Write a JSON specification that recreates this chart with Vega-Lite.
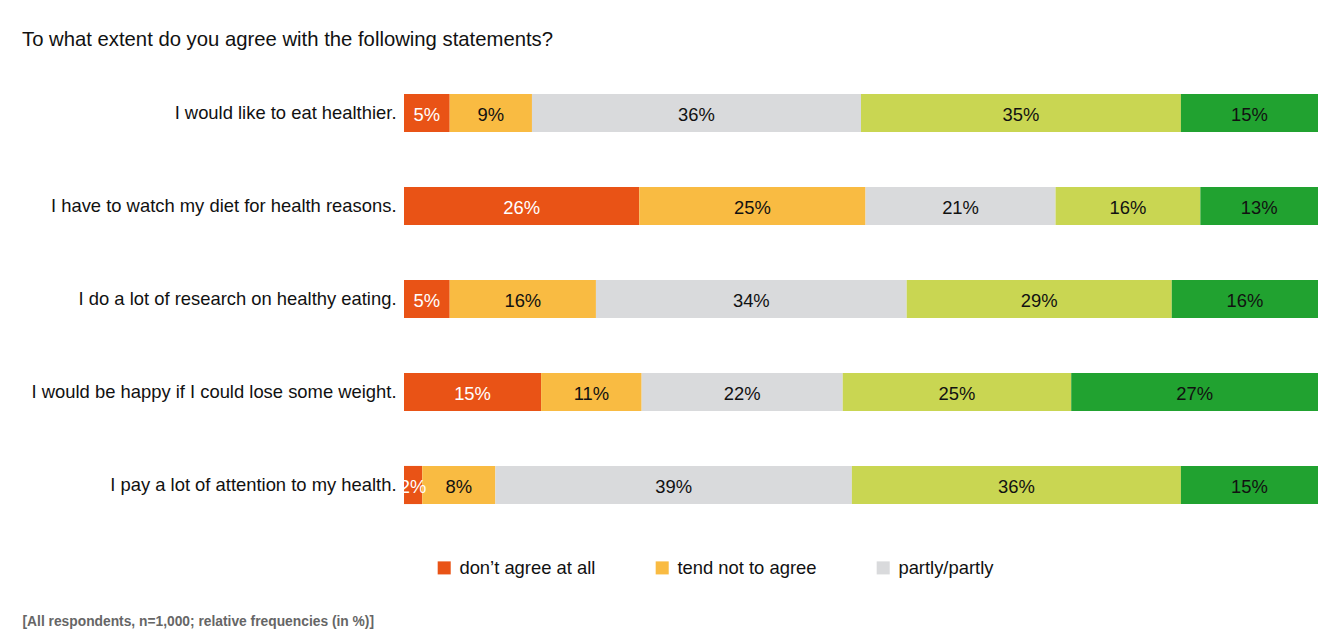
{
  "$schema": "https://vega.github.io/schema/vega-lite/v6.json",
  "autosize": {"type": "none"},
  "width": 914,
  "height": 465,
  "padding": {"left": 404, "top": 66.5, "right": 4, "bottom": 98.5},
  "background": "white",
  "title": {
    "text": "To what extent do you agree with the following statements?",
    "anchor": "start",
    "frame": "group",
    "dx": -382,
    "offset": 16,
    "font": "Liberation Sans",
    "fontSize": 20.3,
    "fontWeight": "normal",
    "color": "#111111"
  },
  "config": {"view": {"stroke": null}, "font": "Liberation Sans"},
  "data": {
    "values": [
      {"statement": "I would like to eat healthier.", "answer": "don’t agree at all", "order": 1, "value": 0.05},
      {"statement": "I would like to eat healthier.", "answer": "tend not to agree", "order": 2, "value": 0.09},
      {"statement": "I would like to eat healthier.", "answer": "partly/partly", "order": 3, "value": 0.36},
      {"statement": "I would like to eat healthier.", "answer": "tend to agree", "order": 4, "value": 0.35},
      {"statement": "I would like to eat healthier.", "answer": "fully agree", "order": 5, "value": 0.15},
      {"statement": "I have to watch my diet for health reasons.", "answer": "don’t agree at all", "order": 1, "value": 0.26},
      {"statement": "I have to watch my diet for health reasons.", "answer": "tend not to agree", "order": 2, "value": 0.25},
      {"statement": "I have to watch my diet for health reasons.", "answer": "partly/partly", "order": 3, "value": 0.21},
      {"statement": "I have to watch my diet for health reasons.", "answer": "tend to agree", "order": 4, "value": 0.16},
      {"statement": "I have to watch my diet for health reasons.", "answer": "fully agree", "order": 5, "value": 0.13},
      {"statement": "I do a lot of research on healthy eating.", "answer": "don’t agree at all", "order": 1, "value": 0.05},
      {"statement": "I do a lot of research on healthy eating.", "answer": "tend not to agree", "order": 2, "value": 0.16},
      {"statement": "I do a lot of research on healthy eating.", "answer": "partly/partly", "order": 3, "value": 0.34},
      {"statement": "I do a lot of research on healthy eating.", "answer": "tend to agree", "order": 4, "value": 0.29},
      {"statement": "I do a lot of research on healthy eating.", "answer": "fully agree", "order": 5, "value": 0.16},
      {"statement": "I would be happy if I could lose some weight.", "answer": "don’t agree at all", "order": 1, "value": 0.15},
      {"statement": "I would be happy if I could lose some weight.", "answer": "tend not to agree", "order": 2, "value": 0.11},
      {"statement": "I would be happy if I could lose some weight.", "answer": "partly/partly", "order": 3, "value": 0.22},
      {"statement": "I would be happy if I could lose some weight.", "answer": "tend to agree", "order": 4, "value": 0.25},
      {"statement": "I would be happy if I could lose some weight.", "answer": "fully agree", "order": 5, "value": 0.27},
      {"statement": "I pay a lot of attention to my health.", "answer": "don’t agree at all", "order": 1, "value": 0.02},
      {"statement": "I pay a lot of attention to my health.", "answer": "tend not to agree", "order": 2, "value": 0.08},
      {"statement": "I pay a lot of attention to my health.", "answer": "partly/partly", "order": 3, "value": 0.39},
      {"statement": "I pay a lot of attention to my health.", "answer": "tend to agree", "order": 4, "value": 0.36},
      {"statement": "I pay a lot of attention to my health.", "answer": "fully agree", "order": 5, "value": 0.15}
    ]
  },
  "transform": [
    {"stack": "value", "groupby": ["statement"], "sort": [{"field": "order", "order": "ascending"}], "offset": "normalize", "as": ["x0", "x1"]}
  ],
  "encoding": {
    "y": {
      "field": "statement",
      "type": "nominal",
      "sort": [
        "I would like to eat healthier.",
        "I have to watch my diet for health reasons.",
        "I do a lot of research on healthy eating.",
        "I would be happy if I could lose some weight.",
        "I pay a lot of attention to my health."
      ],
      "scale": {"paddingInner": 0.59, "paddingOuter": 0.295},
      "axis": {
        "title": null,
        "domain": false,
        "ticks": false,
        "labelPadding": 8,
        "labelFontSize": 18.4,
        "labelColor": "#111111",
        "labelLimit": 0,
        "labelFont": "Liberation Sans"
      }
    }
  },
  "layer": [
    {
      "mark": {"type": "bar"},
      "encoding": {
        "x": {
          "field": "x0",
          "type": "quantitative",
          "scale": {"domain": [0, 1], "nice": false},
          "axis": {
            "title": "[All respondents, n=1,000; relative frequencies (in %)]",
            "labels": false,
            "ticks": false,
            "domain": false,
            "grid": false,
            "titleX": -382,
            "titleY": 94,
            "titleAlign": "left",
            "titleAnchor": null,
            "titleBaseline": "alphabetic",
            "titleFont": "Liberation Sans",
            "titleFontSize": 13.8,
            "titleFontWeight": "bold",
            "titleColor": "#666666"
          }
        },
        "x2": {"field": "x1"},
        "color": {
          "field": "answer",
          "type": "nominal",
          "scale": {
            "domain": ["don’t agree at all", "tend not to agree", "partly/partly", "tend to agree", "fully agree"],
            "range": ["#E95316", "#F9BB42", "#D9DADC", "#C9D652", "#21A230"]
          },
          "legend": {
            "title": null,
            "values": ["don’t agree at all", "tend not to agree", "partly/partly"],
            "orient": "none",
            "direction": "horizontal",
            "legendX": 31,
            "legendY": 492,
            "symbolType": "square",
            "symbolSize": 170,
            "symbolStrokeWidth": 0,
            "labelFontSize": 18.4,
            "labelFont": "Liberation Sans",
            "labelColor": "#111111",
            "labelOffset": 6,
            "columnPadding": 57,
            "labelLimit": 0
          }
        }
      }
    },
    {
      "transform": [
        {"fold": ["x0", "x1"], "as": ["edge", "pos"]},
        {"aggregate": [{"op": "mean", "field": "pos", "as": "mid"}], "groupby": ["statement", "answer", "order", "value"]}
      ],
      "mark": {"type": "text", "fontSize": 18.4, "font": "Liberation Sans", "baseline": "middle", "align": "center", "dy": 1.5},
      "encoding": {
        "x": {"field": "mid", "type": "quantitative"},
        "text": {"field": "value", "type": "quantitative", "format": ".0%"},
        "color": {
          "condition": {"test": "datum.order === 1", "value": "white"},
          "value": "#111111"
        }
      }
    }
  ]
}
